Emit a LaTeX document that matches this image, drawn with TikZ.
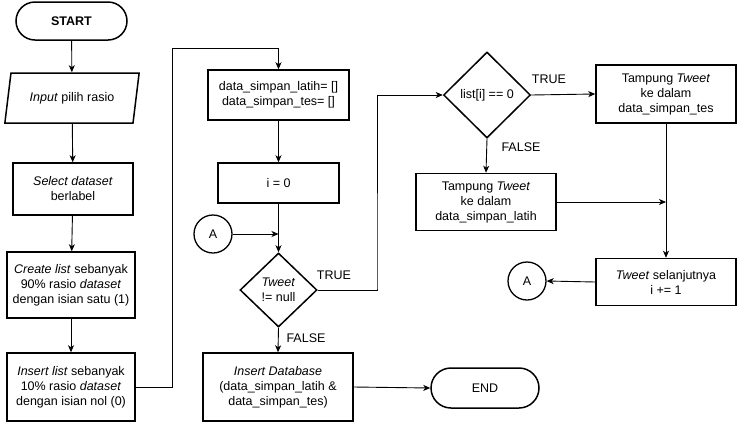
\documentclass[tikz,border=0pt]{standalone}
\usepackage{fontspec}
\setmainfont{Liberation Sans}
\usetikzlibrary{shapes.geometric,shapes.misc,arrows.meta,calc}
\begin{document}
\begin{tikzpicture}[x=1pt,y=-1pt,
  every node/.style={font=\fontsize{12.5}{15}\selectfont, align=center, inner sep=0pt},
  proc/.style={draw, line width=1.5pt, rectangle},
  term/.style={draw, line width=1.5pt, rounded rectangle},
  io/.style={draw, line width=1.5pt, trapezium, trapezium left angle=70, trapezium right angle=110, trapezium stretches=true},
  dec/.style={draw, line width=1.5pt, diamond},
  conn/.style={draw, line width=1.3pt, circle, minimum size=38pt},
  arr/.style={line width=0.9pt, -{Stealth[length=7pt,width=6pt,inset=2pt]}},
  ln/.style={line width=0.9pt},
  lbl/.style={font=\fontsize{12.5}{15}\selectfont}]
\useasboundingbox (0,0) rectangle (737,424);
\fill[white] (0,0) rectangle (737,424);

\node[term, minimum width=111pt, minimum height=38pt] (start) at (71.5,21) {\textbf{START}};
\node[io, minimum width=135pt, minimum height=50pt] (input) at (72,98) {\textit{Input} pilih rasio};
\node[proc, minimum width=120pt, minimum height=52pt] (select) at (73,189) {\textit{Select dataset}\\berlabel};
\node[proc, minimum width=128pt, minimum height=66pt] (create) at (71,285) {\textit{Create list} sebanyak\\90\% rasio \textit{dataset}\\dengan isian satu (1)};
\node[proc, minimum width=128pt, minimum height=68pt] (insertlist) at (71,387) {\textit{Insert list} sebanyak\\10\% rasio \textit{dataset}\\dengan isian nol (0)};

\node[proc, minimum width=141pt, minimum height=50pt] (simpan) at (278.5,95) {data\_simpan\_latih= []\\data\_simpan\_tes= []};
\node[proc, minimum width=121pt, minimum height=40pt] (izero) at (278.5,183) {i = 0};
\node[conn] (ca1) at (213,234) {A};
\node[dec, minimum width=77pt, minimum height=74pt] (tweet) at (278.5,290) {\textit{Tweet}\\!= null};
\node[proc, minimum width=150pt, minimum height=68pt] (insertdb) at (278,387) {\textit{Insert Database}\\(data\_simpan\_latih \&\\data\_simpan\_tes)};
\node[term, minimum width=108pt, minimum height=40pt] (end) at (485,388) {END};

\node[dec, minimum width=87pt, minimum height=86pt] (list) at (487,95) {list[i] == 0};
\node[proc, minimum width=140pt, minimum height=57pt] (latih) at (486,202) {Tampung \textit{Tweet}\\ke dalam\\data\_simpan\_latih};
\node[proc, minimum width=140pt, minimum height=58pt] (tes) at (666,94) {Tampung \textit{Tweet}\\ke dalam\\data\_simpan\_tes};
\node[proc, minimum width=140pt, minimum height=47pt] (next) at (666,282) {\textit{Tweet} selanjutnya\\i += 1};
\node[conn] (ca2) at (527,281) {A};

\coordinate (c1) at (172,48);
\coordinate (c2) at (377,289);

\draw[arr] (start) -- (input);
\draw[arr] (input) -- (select);
\draw[arr] (select) -- (create);
\draw[arr] (create) -- (insertlist);
\draw[arr] (insertlist.east) -| (c1) -| (simpan.north);
\draw[arr] (simpan) -- (izero);
\draw[arr] (izero) -- (tweet.north);
\draw[arr] (ca1.east) -- (izero.south |- ca1.east);
\draw[arr] (tweet.east) -| (c2) |- (list.west);
\node[lbl] (t1) at (334,275) {TRUE};
\draw[arr] (tweet.south) -- (insertdb.north);
\node[lbl] (f1) at (306,338) {FALSE};
\draw[arr] (insertdb.east) -- (end.west);
\draw[arr] (list.east) -- (tes.west);
\node[lbl] (t2) at (549,79) {TRUE};
\draw[arr] (list.south) -- (latih.north);
\node[lbl] (f2) at (521,147) {FALSE};
\draw[arr] (latih.east) -- (tes.south |- latih.east);
\draw[arr] (tes.south) -- (next.north);
\draw[arr] (next.west) -- (ca2.east);
\end{tikzpicture}
\end{document}
